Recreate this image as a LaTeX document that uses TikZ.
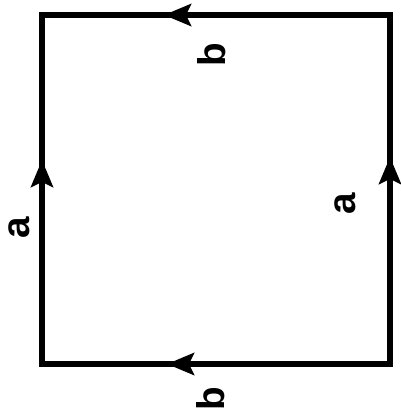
\documentclass[tikz,border=0pt]{standalone}
\usepackage{fontspec}
\setmainfont{Liberation Sans}
\usetikzlibrary{arrows.meta}

\begin{document}
\begin{tikzpicture}[
  x=0.02cm,
  y=-0.02cm,
  >={Stealth[length=0.54cm,width=0.44cm,inset=0.1cm]},
  line join=miter,
  side/.style={line width=3pt},
  every node/.style={font=\fontsize{22}{22}\selectfont\bfseries, rotate=90, inner sep=0pt}
]
  \useasboundingbox (0,0) rectangle (401,417);

  % Corners of the square
  \coordinate (tl) at ( 42, 15);
  \coordinate (tr) at (390, 15);
  \coordinate (br) at (390,364);
  \coordinate (bl) at ( 42,364);

  % Arrow tips on the sides
  \coordinate (lt) at ( 42,160);
  \coordinate (rt) at (390,157);
  \coordinate (tt) at (164, 15);
  \coordinate (bt) at (167,364);

  % The square
  \draw[side] (bl) -- (tl) -- (tr) -- (br) -- cycle;

  % Side directions
  \draw[side,->] (bl) -- (lt);
  \draw[side,->] (br) -- (rt);
  \draw[side,->] (tr) -- (tt);
  \draw[side,->] (br) -- (bt);

  % Labels
  \node (al) at ( 19,228) {a};
  \node (ar) at (345,204) {a};
  \node (bu) at (212, 55) {b};
  \node (bd) at (211,399) {b};
\end{tikzpicture}
\end{document}
